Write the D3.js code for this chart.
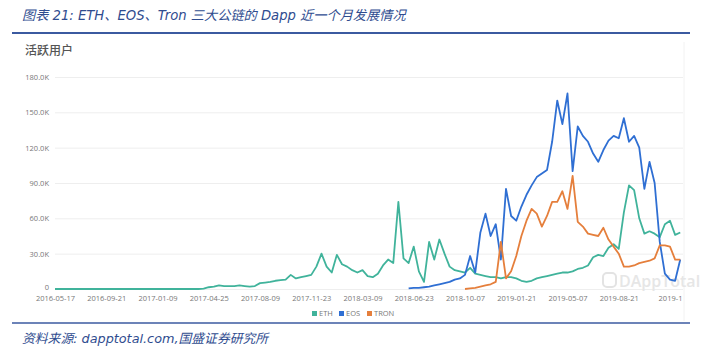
<!DOCTYPE html>
<html><head><meta charset="utf-8">
<script src="https://cdn.jsdelivr.net/npm/d3@7/dist/d3.min.js"></script>
<style>
html,body{margin:0;padding:0;background:#fff;}
svg{display:block;}
</style></head>
<body>
<svg id="c" width="709" height="356"></svg>
<script>
// ---- data (values in thousands of active users; one sample every 1/10 of a label interval) ----
const xLabels = ["2016-05-17","2016-09-21","2017-01-09","2017-04-25","2017-08-09","2017-11-23","2018-03-09","2018-06-23","2018-10-07","2019-01-21","2019-05-07","2019-08-21","2019-1"];
const yTicks = [0,30,60,90,120,150,180];
const seriesNames = ["ETH","EOS","TRON"];
const seriesColors = ["#40b39b","#2f6fd3","#e57f3c"];

const ethStart = 0;
const ethValues = [
 0,0,0,0,0,0,0,0,0,0,
 0,0,0,0,0,0,0,0,0,0,
 0,0,0,0,0,0,0,0,0,0.3,
 1.5,2,3,2.5,2.5,2.5,3,2.5,2,2.5,
 5,5.5,6,7,7.5,8,12,9,10,11,
 12,19,30,19,14,29,21,19,16,14,
 16,11,10,13,20,25,22,74,26,22,
 36,15,6,40,25,42,30,19,16,15,
 14,18,13,12,11,10,10,9,10,10,
 9,7,6,7,9,10,11,12,13,14,
 14,15,17,18,20,27,29,28,35,38,
 34,65,88,84,60,47,49,47,44,55,
 58,46,48
];
const eosStart = 69;
const eosValues = [
 0.5,1,1,1.5,2,3,4,5,6,8,
 9,12,28,14,48,64,45,55,25,85,
 62,58,70,80,88,95,98,101,125,160,
 140,166,100,138,130,125,115,108,118,126,
 130,128,145,125,130,120,85,108,90,40,
 13,8,7,25
];
const tronStart = 80;
const tronValues = [
 0,0.5,1,2,3,4,6,40,9,15,
 28,45,58,68,64,53,62,74,74,83,
 68,96,57,53,47,46,45,52,42,36,
 30,19,19,20,22,23,24,26,37,37,
 36,25,25
];

// ---- layout ----
const svg = d3.select("#c");
const blue = "#2f4c8f";
const x = d3.scaleLinear().domain([0,120]).range([55,670]);
const y = d3.scaleLinear().domain([0,180]).range([289,77]);

// title
svg.append("text").attr("x",22).attr("y",20)
  .attr("font-family","'DejaVu Sans','Noto Sans CJK SC',sans-serif")
  .attr("font-style","italic").attr("font-size",13.2).attr("fill",blue)
  .text("图表 21:  ETH、EOS、Tron 三大公链的 Dapp 近一个月发展情况");
svg.append("line").attr("x1",12).attr("x2",690).attr("y1",33).attr("y2",33)
  .attr("stroke","#3b5aa0").attr("stroke-width",2);

// faint chart frame edge
svg.append("line").attr("x1",684).attr("x2",684).attr("y1",42).attr("y2",321)
  .attr("stroke","#f2f2f2").attr("stroke-width",1);

// chart subtitle
svg.append("text").attr("x",25).attr("y",55)
  .attr("font-family","'Noto Sans CJK SC',sans-serif").attr("font-size",12)
  .attr("font-weight",500).attr("fill","#555").text("活跃用户");

// y axis with gridlines
const yAxis = d3.axisLeft(y).tickValues(yTicks)
  .tickSize(-(683-55)).tickPadding(6)
  .tickFormat(d => d===0 ? "0" : d.toFixed(1)+"K");
const gy = svg.append("g").attr("transform","translate(55,0)").call(yAxis);
gy.select(".domain").remove();
gy.selectAll(".tick line").attr("stroke","#eeeeee");
gy.selectAll(".tick text").attr("font-family","'Open Sans',sans-serif")
  .attr("font-size",7.5).attr("fill","#777");
gy.selectAll(".tick").filter(d=>d===0).select("text").attr("dy","0.1em");

// x axis labels
const xAxis = d3.axisBottom(x).tickValues(d3.range(xLabels.length).map(k=>k*10))
  .tickSize(0).tickPadding(7).tickFormat((d,k)=>xLabels[k]);
const gx = svg.append("g").attr("transform","translate(0,289)").call(xAxis);
gx.select(".domain").remove();
gx.selectAll(".tick text").attr("font-family","'Open Sans',sans-serif")
  .attr("font-size",7.5).attr("fill","#777");

// watermark
const wm = svg.append("g").attr("fill","none");
wm.append("rect").attr("x",603).attr("y",273).attr("width",13).attr("height",14).attr("rx",4)
  .attr("stroke","#e3e3e3").attr("stroke-width",2);
wm.append("text").attr("x",619).attr("y",287)
  .attr("font-family","'Open Sans',sans-serif").attr("font-size",16).attr("font-weight",600)
  .attr("fill","#e6e6e6").text("DAppTotal");

// lines
const line = start => d3.line().x((d,i)=>x(start+i)).y(d=>y(d));
const series = [
  {name:"ETH", start:ethStart, values:ethValues},
  {name:"EOS", start:eosStart, values:eosValues},
  {name:"TRON", start:tronStart, values:tronValues}
];
series.forEach((s,k)=>{
  svg.append("path").attr("d", line(s.start)(s.values))
    .attr("fill","none").attr("stroke",seriesColors[k]).attr("stroke-width",1.8)
    .attr("stroke-linejoin","round");
});

// legend
const legX = [312,339,367];
seriesNames.forEach((n,k)=>{
  svg.append("rect").attr("x",legX[k]).attr("y",311).attr("width",5).attr("height",5)
    .attr("fill",seriesColors[k]);
  svg.append("text").attr("x",legX[k]+7).attr("y",316)
    .attr("font-family","'Open Sans',sans-serif").attr("font-size",7.5).attr("fill","#777").text(n);
});

// footer
svg.append("line").attr("x1",12).attr("x2",690).attr("y1",323).attr("y2",323)
  .attr("stroke","#3b5aa0").attr("stroke-width",1.5);
svg.append("text").attr("x",22).attr("y",343)
  .attr("font-family","'DejaVu Sans','Noto Sans CJK SC',sans-serif")
  .attr("font-style","italic").attr("font-size",12.8).attr("fill",blue)
  .text("资料来源: dapptotal.com,国盛证券研究所");
</script>
</body></html>
